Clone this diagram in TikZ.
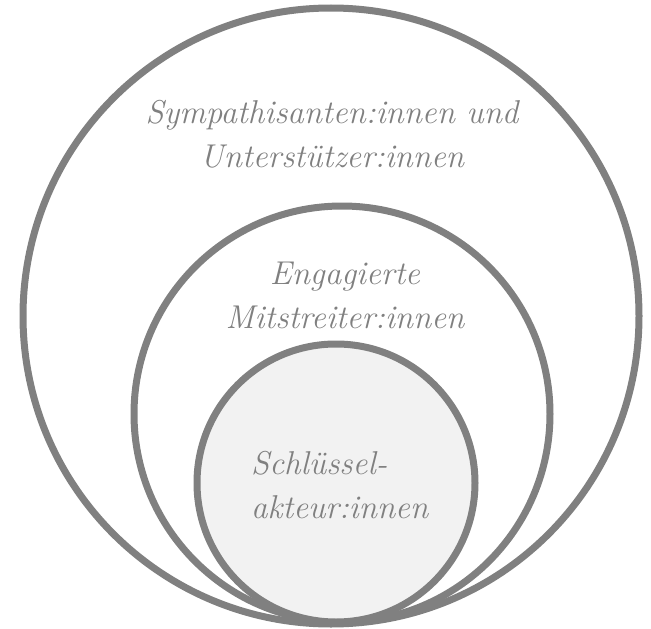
\documentclass[tikz,border=0pt]{standalone}
\usepackage{fontspec}
\definecolor{ringgray}{HTML}{808080}
\definecolor{labelgray}{HTML}{808080}
\definecolor{corefill}{HTML}{F2F2F2}
\begin{document}
\begin{tikzpicture}[x=1pt, y=-1pt]
	\tikzstyle{ring}=[circle, draw=ringgray, line width=7pt, inner sep=0pt]
	\tikzstyle{label}=[text=labelgray, font=\fontsize{33}{44}\selectfont\itshape, inner sep=0pt]
	\useasboundingbox (0,0) rectangle (651,629);
	\draw
	node[ring, minimum size=616pt](outer)at(331,316){}
	node[ring, minimum size=416pt](middle)at(342,414){}
	node[ring, fill=corefill, minimum size=278pt](core)at(336,483){};
	
	\node[label, align=center](outertext)at(332,134){Sympathisanten:innen und\\Unterstützer:innen};
	\node[label, align=center](middletext)at(345,295){Engagierte\\Mitstreiter:innen};
	\node[label, align=left, anchor=west](coretext)at(251,485){Schlüssel-\\akteur:innen};
\end{tikzpicture}
\end{document}
